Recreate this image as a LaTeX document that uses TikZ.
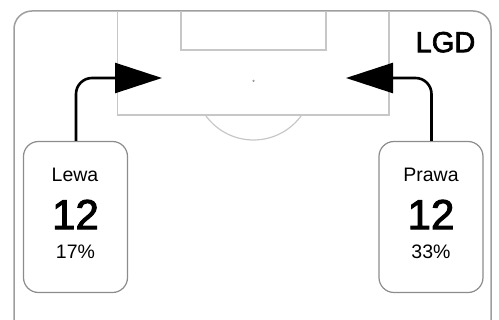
\documentclass[tikz,border=0pt]{standalone}
\usepackage{fontspec}
\setmainfont{Liberation Sans}
\newfontfamily\mediumfont[FakeBold=2.4]{Liberation Sans}
\usetikzlibrary{arrows.meta}
\begin{document}
\begin{tikzpicture}[x=1pt,y=-1pt,
  frame/.style={draw=black!38,line width=1.5pt,rounded corners=18pt},
  pitch/.style={draw=black!22,line width=1.2pt},
  zonebox/.style={draw=black!45,line width=1.2pt,rounded corners=15pt,fill=white,minimum width=104pt,minimum height=151pt,inner sep=0pt},
  flow/.style={draw=black,line width=2.6pt,rounded corners=16pt,-{Triangle[length=47pt,width=30pt]}},
  lbl/.style={font=\fontsize{19.5}{20}\selectfont,inner sep=0pt},
  big/.style={font=\mediumfont\fontsize{42}{42}\selectfont,inner sep=0pt}]
\useasboundingbox (0,0) rectangle (499,320);
% outer frame (open at bottom)
\draw[frame] (14,330) -- (14,11) -- (491,11) -- (491,330);
% penalty area
\draw[pitch] (117.5,11) -- (117.5,115) -- (389,115) -- (389,11);
\draw[pitch] (181,11) -- (181,50) -- (326,50) -- (326,11);
\draw[pitch] (253.5,81) ++(144.8:59) arc[start angle=144.8,end angle=35.2,radius=59];
\node[fill=black!40,circle,inner sep=0pt,minimum size=2.5pt] (spot) at (253.5,81) {};
% label
\node[font=\mediumfont\fontsize{29}{29}\selectfont,inner sep=0pt,anchor=east] (lgd) at (475.5,42.2) {LGD};
% zone boxes
\node[zonebox] (L) at (75.5,217) {};
\node[zonebox] (R) at (431,217) {};
\node[lbl] (Lt) at (75,176.5) {\vphantom{Lp}Lewa};
\node[big] (Ln) at (75.5,214.5) {12};
\node[lbl] (Lp) at (75.5,251.5) {17\%};
\node[lbl] (Rt) at (431,176.5) {\vphantom{Lp}Prawa};
\node[big] (Rn) at (431,214.5) {12};
\node[lbl] (Rp) at (431,251.5) {33\%};
% arrows
\coordinate (La) at (162,78);
\coordinate (Ra) at (346,78);
\draw[flow] (L.north -| 76,0) -- (76,78) -- (La);
\draw[flow] (R.north -| 431.5,0) -- (431.5,78) -- (Ra);
\end{tikzpicture}
\end{document}
